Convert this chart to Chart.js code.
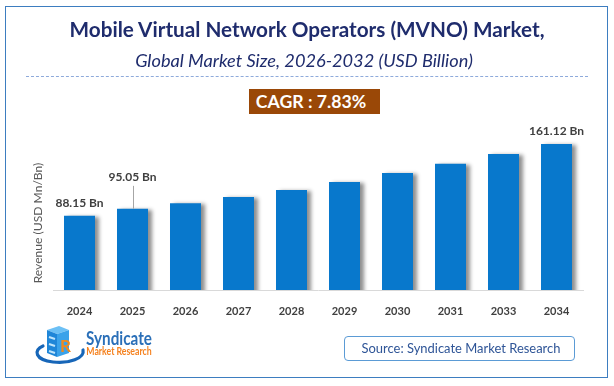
<!DOCTYPE html>
<html>
<head>
<meta charset="utf-8">
<script src="https://cdn.jsdelivr.net/npm/chart.js@4.4.1/dist/chart.umd.min.js"></script>
<style>
html,body{margin:0;padding:0;background:#fff;}
#wrap{position:relative;width:614px;height:386px;overflow:hidden;font-family:Lato,'Open Sans',sans-serif;}
#frame{position:absolute;left:5px;top:6px;width:603px;height:372px;border:1.5px solid #3d7dc0;box-sizing:border-box;}
canvas{position:absolute;left:0;top:0;}
.t{position:absolute;white-space:nowrap;transform:translate(-50%,-50%);line-height:1;}
#dash{position:absolute;left:26px;top:76px;width:562px;height:0;border-top:1px dashed #8eaadb;}
#cagrBox{position:absolute;left:249px;top:89px;width:131px;height:25px;background:#9a4807;}
#srcBox{position:absolute;left:344px;top:336px;width:231px;height:25px;border:1px solid #5b9bd5;border-radius:4px;box-sizing:border-box;}
</style>
</head>
<body>
<div id="wrap">
  <div id="frame"></div>
  <canvas id="c" width="614" height="386"></canvas>
  <span class="t" id="title" style="left:307px;top:29px;font-weight:700;color:#1f2c6d;font-size:20px;">Mobile Virtual Network Operators (MVNO) Market,</span>
  <span class="t" id="subtitle" style="left:304px;top:60px;font-style:italic;color:#1f2c6d;font-size:17px;">Global Market Size, 2026-2032 (USD Billion)</span>
  <div id="dash"></div>
  <div id="cagrBox"></div>
  <span class="t" id="cagr" style="left:311px;top:102px;font-weight:700;color:#fff;font-size:18px;"></span>
  <span class="t" id="ytitle" style="left:38px;top:223px;color:#595959;font-size:12px;transform:translate(-50%,-50%) rotate(-90deg);">Revenue (USD Mn/Bn)</span>
  <svg style="position:absolute;left:33px;top:324px;" width="54" height="42" viewBox="0 0 54 42">
    <path d="M10 22 C0 26 2 36 20 38 C36 40 52 34 50 26" fill="none" stroke="#1766b8" stroke-width="3.2" stroke-linecap="round"/>
    <path d="M14 6 L26 2 L36 6 L24 10 Z" fill="#6cc0f5"/>
    <path d="M14 6 L24 10 L24 33 L14 29 Z" fill="#1f86d8"/>
    <path d="M24 10 L36 6 L36 29 L24 33 Z" fill="#3aa2ea"/>
    <path d="M16 13 L22 15 M16 20 L22 22 M16 27 L22 29" stroke="#bfe4fb" stroke-width="2"/>
    <text x="27" y="28" font-family="Lato,sans-serif" font-weight="700" font-size="17" fill="#f28a1d">R</text>
  </svg>
  <span class="t" id="logo1" style="left:119px;top:338px;font-weight:700;color:#2a6fb8;font-size:18px;">Syndicate</span>
  <span class="t" id="logo2" style="left:118.5px;top:350px;font-weight:700;color:#f5821f;font-size:11px;">Market Research</span>
  <div id="srcBox"></div>
  <span class="t" id="src" style="left:461px;top:348px;color:#2f5597;font-size:14px;">Source: Syndicate Market Research</span>
</div>
<script>
// ---- data ----
const years = ['2024','2025','2026','2027','2028','2029','2030','2031','2033','2034'];
const revenue = [88.15, 95.05, 100.8, 107.2, 114.3, 122.4, 131.6, 141.0, 150.9, 161.12];
const valueLabels = ['88.15 Bn','95.05 Bn','','','','','','','','161.12 Bn'];
const cagrValue = '7.83%';

document.getElementById('cagr').textContent = 'CAGR : ' + cagrValue;

// fit text widths to the reference
function fit(id, target){
  const el = document.getElementById(id);
  const fs = parseFloat(el.style.fontSize);
  const w = el.offsetWidth;
  el.style.fontSize = (fs * target / w).toFixed(2) + 'px';
}
// condense (narrow) text to a target width, keeping its height
function squeeze(id, target){
  const el = document.getElementById(id);
  const w = el.offsetWidth;
  el.style.transform = 'translate(-50%,-50%) scaleX(' + (target / w).toFixed(3) + ')';
}
fit('title', 475); fit('subtitle', 338); fit('cagr', 110); fit('src', 199); fit('ytitle', 121);
squeeze('logo1', 66); squeeze('logo2', 65);

const shadowPlugin = {
  id: 'barShadow',
  beforeDatasetsDraw(chart){
    const c = chart.ctx; c.save();
    c.shadowColor = 'rgba(0,0,0,0.45)';
    c.shadowBlur = 4; c.shadowOffsetX = 4; c.shadowOffsetY = 1;
  },
  afterDatasetsDraw(chart){ chart.ctx.restore(); }
};

const labelPlugin = {
  id: 'valueLabels',
  afterDatasetsDraw(chart){
    const c = chart.ctx;
    const meta = chart.getDatasetMeta(0);
    c.save();
    c.font = 'bold 12px Lato, sans-serif';
    c.fillStyle = '#404040';
    c.textAlign = 'center'; c.textBaseline = 'middle';
    meta.data.forEach((bar, i) => {
      const txt = valueLabels[i];
      if (!txt) return;
      let off = 13;
      if (i === 1) {
        off = 32;
        c.strokeStyle = '#a6a6a6'; c.lineWidth = 1;
        c.beginPath();
        c.moveTo(Math.round(bar.x) + 0.5, bar.y);
        c.lineTo(Math.round(bar.x) + 0.5, bar.y - 23);
        c.stroke();
      }
      c.fillText(txt, bar.x, bar.y - off);
    });
    c.restore();
  }
};

new Chart(document.getElementById('c'), {
  type: 'bar',
  data: {
    labels: years,
    datasets: [{
      data: revenue,
      backgroundColor: '#0878cc',
      borderWidth: 0,
      barPercentage: 0.585,
      categoryPercentage: 1
    }]
  },
  options: {
    responsive: false,
    animation: false,
    devicePixelRatio: 1,
    layout: { padding: { left: 53, right: 31, top: 124, bottom: 52.8 } },
    plugins: { legend: { display: false }, tooltip: { enabled: false } },
    scales: {
      x: {
        grid: { display: false, drawTicks: false },
        border: { display: true, color: '#d9d9d9', width: 1 },
        ticks: { color: '#404040', font: { family: 'Lato', weight: 'bold', size: 11 }, padding: 15 }
      },
      y: {
        display: false,
        min: 12.5,
        max: 181.4
      }
    }
  },
  plugins: [shadowPlugin, labelPlugin]
});
</script>
</body>
</html>
